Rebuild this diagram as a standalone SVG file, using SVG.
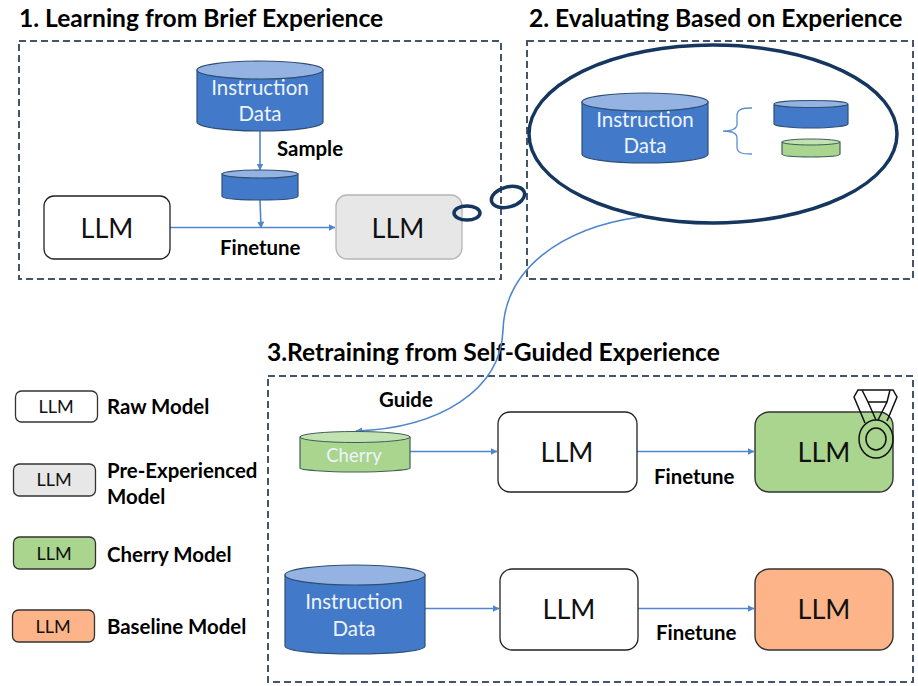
<svg xmlns="http://www.w3.org/2000/svg" width="918" height="686" viewBox="0 0 918 686">
<style>
text{font-family:"Lato","Open Sans","Liberation Sans",sans-serif}
.t{font-size:24.600px;font-weight:700;fill:#000}
.l{font-size:20.400px;font-weight:700;fill:#000}
.m{font-size:27px;fill:#111;text-anchor:middle}
.s{font-size:18px;fill:#111;text-anchor:middle}
.w{font-size:20.500px;fill:#eef3fb;text-anchor:middle}
.frame{fill:none;stroke:#44546a;stroke-width:2;stroke-dasharray:7 4}
.b{stroke:#2f4f73;stroke-width:1.2;fill:#4279c9}
.bt{stroke:#2f4f73;stroke-width:1.2;fill:#94b3e2}
.g{stroke:#3f5f58;stroke-width:1.2;fill:#a9d58f}
.gt{stroke:#3f5f58;stroke-width:1;fill:#c3e2b1}
.c{fill:none;stroke:#4f86cf;stroke-width:1.6}
.a{marker-end:url(#arr)}
.ring{fill:none;stroke:#15365f;stroke-width:3.5}
.med{fill:none;stroke:#111;stroke-width:1.5}
</style>
<defs>
<marker id="arr" markerWidth="8" markerHeight="8" refX="6.500" refY="3.500" orient="auto" markerUnits="userSpaceOnUse"><path d="M0 0L7 3.500L0 7Z" fill="#4f86cf"/></marker>
</defs>
<rect width="918" height="686" fill="#fff"/>
<g id="frames">
<rect class="frame" x="19" y="41" width="482" height="238"/>
<rect class="frame" x="527" y="41" width="386" height="238"/>
<rect class="frame" x="268" y="376" width="645" height="306"/>
</g>
<g id="titles">
<text class="t" x="19" y="27">1. Learning from Brief Experience</text>
<text class="t" x="529" y="27">2. Evaluating Based on Experience</text>
<text class="t" x="267" y="361">3.Retraining from Self-Guided Experience</text>
</g>
<g id="connectors">
<path class="c a" d="M260 131V170"/>
<path class="c a" d="M260 200L261 228"/>
<path class="c a" d="M170 227.500H335"/>
<path class="c a" d="M410 451.500H497"/>
<path class="c a" d="M637 451.500H754"/>
<path class="c a" d="M425 608.500H499"/>
<path class="c a" d="M638 608.500H754"/>
<path class="c a" d="M640 217C560 228 505 270 503 330C501 390 440 428 356 431"/>
</g>
<g id="evaluate-bubble">
<ellipse class="ring" cx="713" cy="134" rx="184" ry="89" style="fill:#fff"/>
</g>
<g id="sample-source">
<path class="b" d="M197 70V122C197 127 225 131 260 131S323 127 323 122V70Z"/>
<ellipse class="bt" cx="260" cy="70" rx="63" ry="9"/>
<text class="w" x="260" y="95">Instruction</text>
<text class="w" x="260" y="121">Data</text>
</g>
<g id="sample-subset">
<path class="b" d="M222 174V196C222 199 239 200 260 200S298 199 298 196V174Z"/>
<ellipse class="bt" cx="260" cy="174" rx="38" ry="4"/>
</g>
<g id="raw-llm-1">
<rect x="44" y="196" width="126" height="63" rx="10" fill="#fff" stroke="#222" stroke-width="1.300"/>
<text class="m" x="107" y="238">LLM</text>
</g>
<g id="pre-experienced-llm">
<rect x="336" y="195" width="126" height="64" rx="11" fill="#e7e7e7" stroke="#b5b5b5" stroke-width="1.300"/>
<text class="m" x="398" y="238">LLM</text>
</g>
<g id="thought-rings">
<ellipse class="ring" cx="508" cy="197" rx="17" ry="10" transform="rotate(-15 508 197)"/>
<ellipse class="ring" cx="467" cy="213" rx="13" ry="7"/>
</g>
<g id="labels">
<text class="l" x="277" y="156">Sample</text>
<text class="l" x="220" y="255">Finetune</text>
<text class="l" x="379" y="407">Guide</text>
<text class="l" x="654" y="484">Finetune</text>
<text class="l" x="656" y="640">Finetune</text>
</g>
<g id="eval-source">
<path class="b" d="M582 102V154C582 159 610 163 645 163S708 159 708 154V102Z"/>
<ellipse class="bt" cx="645" cy="102" rx="63" ry="9"/>
<text class="w" x="645" y="127">Instruction</text>
<text class="w" x="645" y="153">Data</text>
</g>
<g id="eval-brace">
<path d="M752 108C742 108 737 109 737 116V124C737 129 733 131 723 131C733 131 737 133 737 138V147C737 153 742 154 752 154" fill="none" stroke="#5b8fd0" stroke-width="1.300"/>
</g>
<g id="eval-blue">
<path class="b" d="M774 105V124C774 126 790 128 811 128S848 126 848 124V105Z"/>
<ellipse class="bt" cx="811" cy="104" rx="37" ry="3.500"/>
</g>
<g id="eval-green">
<path class="g" d="M782 142V154C782 156 795 157 811 157S840 156 840 154V142Z"/>
<ellipse class="gt" cx="811" cy="142" rx="29" ry="3"/>
</g>
<g id="cherry-data">
<path class="g" d="M300 437V468C300 470 325 472 355 472S410 470 410 468V437Z"/>
<ellipse class="gt" cx="355" cy="437" rx="55" ry="5.500"/>
<text class="w" x="354" y="462" style="font-size:18.500px">Cherry</text>
</g>
<g id="raw-llm-2">
<rect x="498" y="412" width="139" height="80" rx="12" fill="#fff" stroke="#222" stroke-width="1.300"/>
<text class="m" x="567" y="462">LLM</text>
</g>
<g id="cherry-llm">
<rect x="755" y="412" width="138" height="80" rx="14" fill="#a9d58f" stroke="#333" stroke-width="1.400"/>
<text class="m" x="824" y="462">LLM</text>
</g>
<g id="medal">
<ellipse class="med" cx="876" cy="439" rx="17" ry="19"/>
<ellipse class="med" cx="876" cy="439" rx="10" ry="11"/>
<path class="med" d="M865 423L854 397L858 390H893L897 397L887 421M876 420L868 402L862 390M878 420L887 402L890 390M868 402H887"/>
</g>
<g id="instruction-data">
<path class="b" d="M285 575V646C285 651 316 654 355 654S425 651 425 646V575Z"/>
<ellipse class="bt" cx="355" cy="575" rx="70" ry="10"/>
<text class="w" x="354" y="609">Instruction</text>
<text class="w" x="354" y="636">Data</text>
</g>
<g id="raw-llm-3">
<rect x="500" y="569" width="138" height="81" rx="12" fill="#fff" stroke="#222" stroke-width="1.300"/>
<text class="m" x="569" y="619">LLM</text>
</g>
<g id="baseline-llm">
<rect x="755" y="569" width="138" height="81" rx="14" fill="#fdb489" stroke="#333" stroke-width="1.400"/>
<text class="m" x="824" y="619">LLM</text>
</g>
<g id="legend-raw">
<rect x="15.500" y="391" width="82" height="31" rx="6" fill="#fff" stroke="#333" stroke-width="1.300"/>
<text class="s" x="56" y="413">LLM</text>
<text class="l" x="107" y="414">Raw Model</text>
</g>
<g id="legend-pre">
<rect x="13.500" y="464" width="82" height="32" rx="6" fill="#e7e7e7" stroke="#333" stroke-width="1.300"/>
<text class="s" x="54" y="486">LLM</text>
<text class="l" x="107" y="478">Pre-Experienced</text>
<text class="l" x="107" y="504">Model</text>
</g>
<g id="legend-cherry">
<rect x="13.500" y="537" width="82" height="32" rx="6" fill="#a9d58f" stroke="#333" stroke-width="1.300"/>
<text class="s" x="54" y="560">LLM</text>
<text class="l" x="107" y="562">Cherry Model</text>
</g>
<g id="legend-baseline">
<rect x="12.500" y="610" width="82" height="32" rx="6" fill="#fdb489" stroke="#333" stroke-width="1.300"/>
<text class="s" x="53" y="633">LLM</text>
<text class="l" x="107" y="634">Baseline Model</text>
</g>
</svg>
